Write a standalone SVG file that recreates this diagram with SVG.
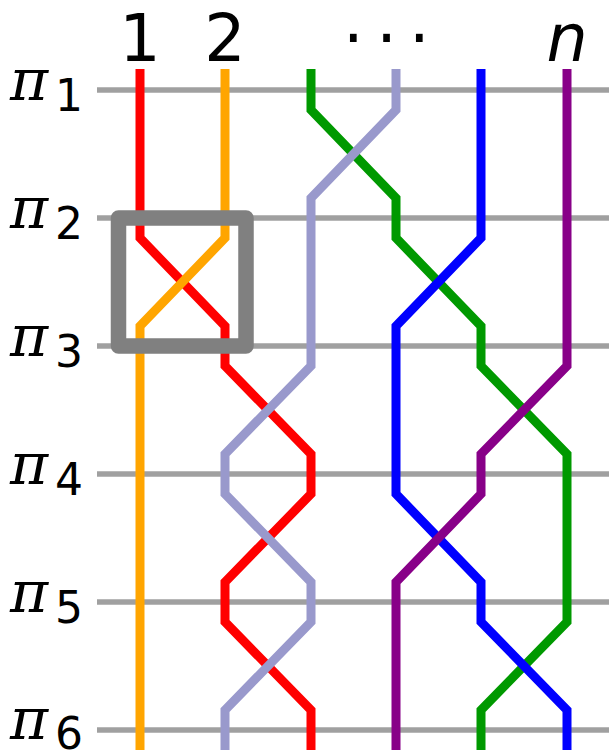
<svg xmlns="http://www.w3.org/2000/svg" width="609" height="752" viewBox="0 0 609 752">
<style>
.lvl{stroke:#a0a0a0;stroke-width:5.5;fill:none}
.s{fill:none;stroke-width:9;stroke-linejoin:miter;stroke-linecap:butt}
.lab{font-family:"DejaVu Sans",sans-serif;font-size:65px;fill:#000}
.pi{font-family:"DejaVu Serif",serif;font-style:italic;font-size:58px;fill:#000}
.sub{font-family:"DejaVu Sans",sans-serif;font-size:44px;fill:#000}
</style>
<rect width="609" height="752" fill="#fff"/>
<g id="levels">
<line class="lvl" x1="97" y1="90" x2="609" y2="90"/>
<line class="lvl" x1="97" y1="218" x2="609" y2="218"/>
<line class="lvl" x1="97" y1="346" x2="609" y2="346"/>
<line class="lvl" x1="97" y1="474" x2="609" y2="474"/>
<line class="lvl" x1="97" y1="602" x2="609" y2="602"/>
<line class="lvl" x1="97" y1="730" x2="609" y2="730"/>
</g>
<g id="level-labels">
<g id="pi1"><text class="pi" x="10" y="100">π</text><text class="sub" x="55" y="111">1</text></g>
<g id="pi2"><text class="pi" x="10" y="228">π</text><text class="sub" x="55" y="239">2</text></g>
<g id="pi3"><text class="pi" x="10" y="356">π</text><text class="sub" x="55" y="367">3</text></g>
<g id="pi4"><text class="pi" x="10" y="484">π</text><text class="sub" x="55" y="495">4</text></g>
<g id="pi5"><text class="pi" x="10" y="612">π</text><text class="sub" x="55" y="623">5</text></g>
<g id="pi6"><text class="pi" x="10" y="739">π</text><text class="sub" x="55" y="749">6</text></g>
</g>
<g id="strand-labels">
<text class="lab" x="140" y="61" text-anchor="middle">1</text>
<text class="lab" x="225" y="61" text-anchor="middle">2</text>
<text class="lab" x="353.3 386.7 419.3" y="61" text-anchor="middle">···</text>
<text class="lab" x="567" y="61" text-anchor="middle" font-style="italic">n</text>
</g>
<g id="strands">
<path id="red" class="s" stroke="#ff0000" d="M140 69V238L225 326V366L311 454V494L225 582V622L311 710V750"/>
<path id="orange" class="s" stroke="#ffa500" d="M225 69V238L140 326V750"/>
<path id="green" class="s" stroke="#009900" d="M311 69V110L396 198V238L481 326V366L567 454V622L481 710V750"/>
<path id="blue" class="s" stroke="#0000ff" d="M481 69V238L396 326V494L481 582V622L567 710V750"/>
<path id="purple" class="s" stroke="#880088" d="M567 69V366L481 454V494L396 582V750"/>
<path id="lavender" class="s" stroke="#9999cc" d="M396 69V110L311 198V366L225 454V494L311 582V622L225 710V750"/>
</g>
<g id="swap-box">
<rect x="118.5" y="218" width="127.5" height="128" fill="none" stroke="#808080" stroke-width="15.5" stroke-linejoin="round"/>
</g>
</svg>
